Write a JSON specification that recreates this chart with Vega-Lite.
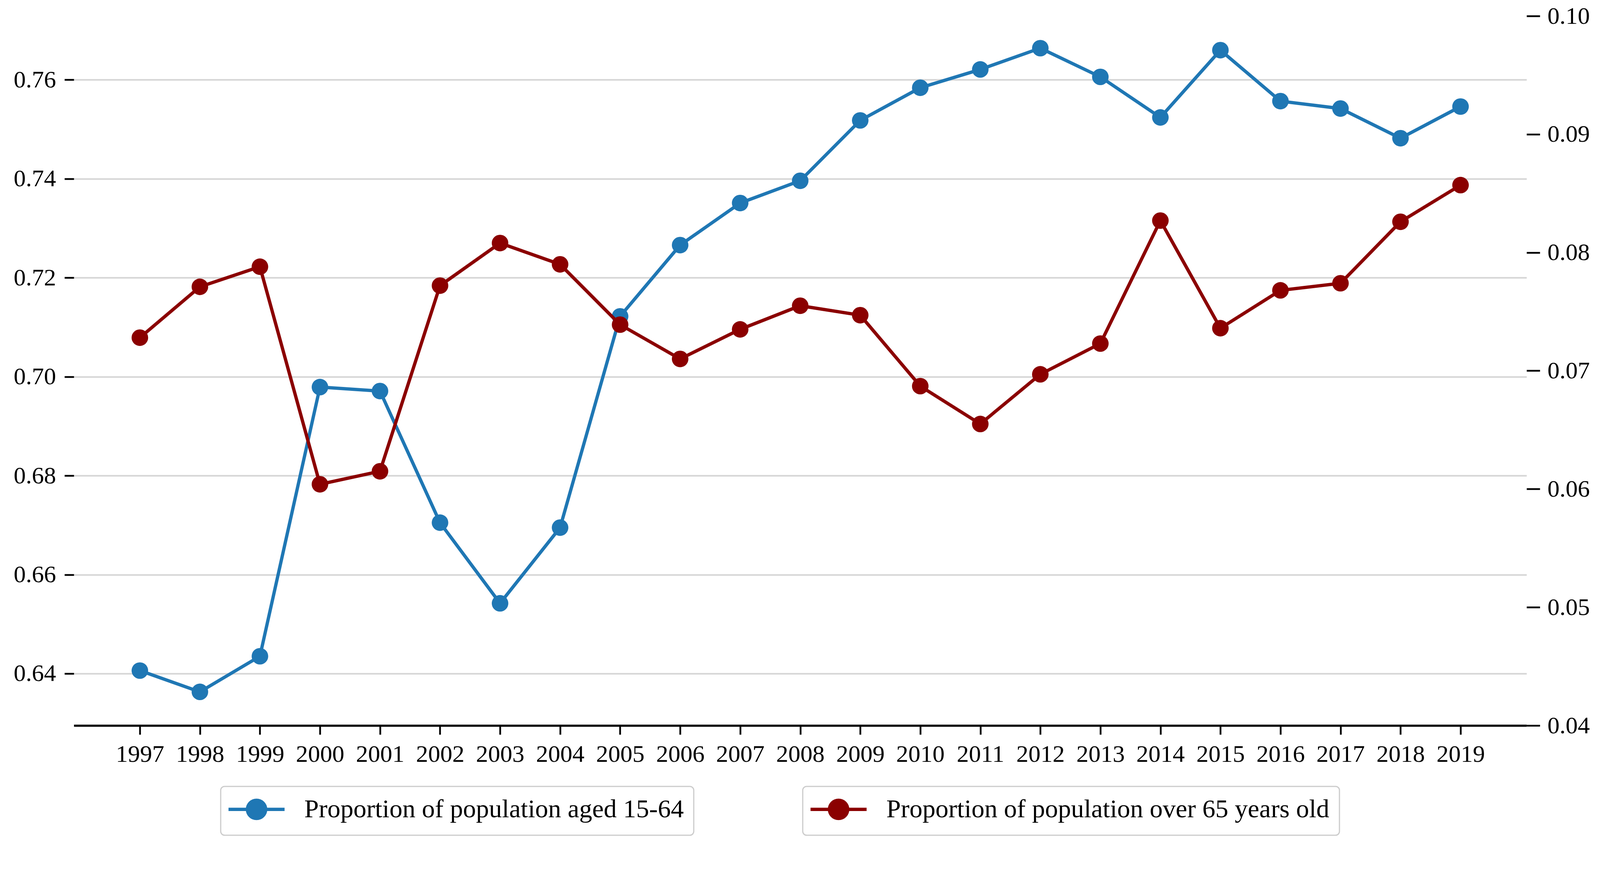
{
  "$schema": "https://vega.github.io/schema/vega-lite/v6.json",
  "autosize": {"type": "none"},
  "padding": {"left": 189, "top": 41, "right": 188, "bottom": 298},
  "width": 3719,
  "height": 1817,
  "background": "white",
  "data": {"values": [
    {"year": 1997, "working": 0.6406, "elderly": 0.0728},
    {"year": 1998, "working": 0.6363, "elderly": 0.0771},
    {"year": 1999, "working": 0.6435, "elderly": 0.0788},
    {"year": 2000, "working": 0.6979, "elderly": 0.0604},
    {"year": 2001, "working": 0.6971, "elderly": 0.0615},
    {"year": 2002, "working": 0.6705, "elderly": 0.0772},
    {"year": 2003, "working": 0.6542, "elderly": 0.0808},
    {"year": 2004, "working": 0.6695, "elderly": 0.0790},
    {"year": 2005, "working": 0.7122, "elderly": 0.0739},
    {"year": 2006, "working": 0.7266, "elderly": 0.0710},
    {"year": 2007, "working": 0.7351, "elderly": 0.0735},
    {"year": 2008, "working": 0.7396, "elderly": 0.0755},
    {"year": 2009, "working": 0.7518, "elderly": 0.0747},
    {"year": 2010, "working": 0.7584, "elderly": 0.0687},
    {"year": 2011, "working": 0.7621, "elderly": 0.0655},
    {"year": 2012, "working": 0.7664, "elderly": 0.0697},
    {"year": 2013, "working": 0.7606, "elderly": 0.0723},
    {"year": 2014, "working": 0.7524, "elderly": 0.0827},
    {"year": 2015, "working": 0.7660, "elderly": 0.0736},
    {"year": 2016, "working": 0.7557, "elderly": 0.0768},
    {"year": 2017, "working": 0.7542, "elderly": 0.0774},
    {"year": 2018, "working": 0.7482, "elderly": 0.0826},
    {"year": 2019, "working": 0.7546, "elderly": 0.0857}
  ]},
  "encoding": {
    "x": {
      "field": "year", "type": "quantitative",
      "scale": {"domain": [1995.9, 2020.1], "nice": false, "zero": false},
      "axis": {
        "title": null, "values": [1997,1998,1999,2000,2001,2002,2003,2004,2005,2006,2007,2008,2009,2010,2011,2012,2013,2014,2015,2016,2017,2018,2019],
        "format": "d", "grid": false, "domain": true, "domainColor": "black", "domainWidth": 5.7,
        "labelFlush": false, "labelOverlap": false, "labelPadding": 20, "tickSize": 23
      }
    }
  },
  "layer": [
    {
      "mark": {"type": "line", "strokeWidth": 8.5, "point": {"filled": true, "size": 1800, "opacity": 1}},
      "encoding": {
        "y": {
          "field": "working", "type": "quantitative",
          "scale": {"domain": [0.6295, 0.7729], "nice": false, "zero": false},
          "axis": {"title": null, "orient": "left", "values": [0.64, 0.66, 0.68, 0.70, 0.72, 0.74, 0.76], "format": ".2f", "grid": true, "domain": false, "tickSize": 24, "labelPadding": 22}
        },
        "color": {
          "datum": "Proportion of population aged 15-64",
          "scale": {"range": ["#1f77b4"]},
          "legend": {
            "title": null, "orient": "none", "legendX": 376, "legendY": 1973,
            "symbolType": "M-3.08,0L3.08,0M-1,0A1,1,0,1,0,1,0A1,1,0,1,0,-1,0Z",
            "symbolSize": 2172, "symbolStrokeWidth": 8.5, "symbolOffset": 33,
            "symbolFillColor": "#1f77b4", "symbolStrokeColor": "#1f77b4",
            "encode": {"symbols": {"update": {"fill": {"value": "#1f77b4"}, "stroke": {"value": "#1f77b4"}, "strokeWidth": {"value": 8.5}, "opacity": {"value": 1}}}}
          }
        }
      }
    },
    {
      "mark": {"type": "line", "strokeWidth": 8.5, "point": {"filled": true, "size": 1800, "opacity": 1}},
      "encoding": {
        "y": {
          "field": "elderly", "type": "quantitative",
          "scale": {"domain": [0.04, 0.10], "nice": false, "zero": false},
          "axis": {"title": null, "orient": "right", "values": [0.04, 0.05, 0.06, 0.07, 0.08, 0.09, 0.10], "format": ".2f", "grid": false, "domain": false, "tickSize": 34, "labelPadding": 19}
        },
        "color": {
          "datum": "Proportion of population over 65 years old",
          "scale": {"range": ["#8b0000"]},
          "legend": {
            "title": null, "orient": "none", "legendX": 1866, "legendY": 1973,
            "symbolType": "M-3.08,0L3.08,0M-1,0A1,1,0,1,0,1,0A1,1,0,1,0,-1,0Z",
            "symbolSize": 2172, "symbolStrokeWidth": 8.5, "symbolOffset": 33,
            "symbolFillColor": "#8b0000", "symbolStrokeColor": "#8b0000",
            "encode": {"symbols": {"update": {"fill": {"value": "#8b0000"}, "stroke": {"value": "#8b0000"}, "strokeWidth": {"value": 8.5}, "opacity": {"value": 1}}}}
          }
        }
      }
    }
  ],
  "resolve": {"scale": {"y": "independent", "color": "independent"}},
  "config": {
    "view": {"stroke": null},
    "font": "Liberation Serif",
    "axis": {
      "labelFont": "Liberation Serif", "labelFontSize": 62, "labelColor": "black",
      "tickColor": "black", "tickWidth": 4.5,
      "gridColor": "#d5d5d5", "gridWidth": 4
    },
    "legend": {
      "labelFont": "Liberation Serif", "labelFontSize": 66.5, "labelColor": "black",
      "strokeColor": "#cccccc", "strokeWidth": 3, "cornerRadius": 10, "fillColor": "white",
      "padding": 25.5, "labelOffset": 89, "labelLimit": 3000
    }
  }
}
